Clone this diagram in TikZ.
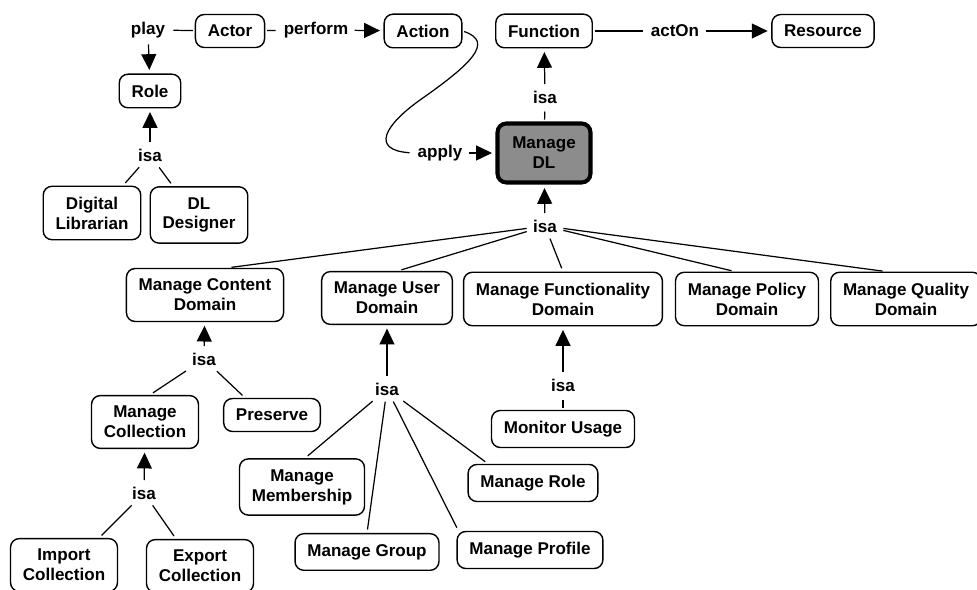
\documentclass[tikz,border=0pt]{standalone}
\usepackage{fontspec}
\setmainfont{Liberation Sans}
\usepackage{tikz}
\usetikzlibrary{arrows.meta}
\usepackage{xcolor}
\definecolor{dlgray}{RGB}{140,140,140}

\begin{document}
\begin{tikzpicture}[
    x=0.02cm, y=-0.02cm,
    concept/.style={draw, rounded corners=5pt, line width=0.8pt, align=center, inner xsep=7pt, inner ysep=6pt, font=\bfseries\fontsize{9.7}{11.3}\selectfont},
    phrase/.style={inner sep=2.5pt, font=\bfseries\fontsize{9.7}{11.3}\selectfont},
    link/.style={line width=0.7pt, shorten <=1pt, shorten >=2pt},
    isarrow/.style={link, -{Triangle[length=9pt,width=8.5pt]}}
]
    \useasboundingbox (0,0) rectangle (977,590);

    % Nodes
    \node[concept] (actor) at (230,31) {Actor};
    \node[concept] (action) at (423,31) {Action};
    \node[concept] (function) at (544,31) {Function};
    \node[concept] (resource) at (823,31) {Resource};
    \node[concept] (role) at (150,91) {Role};
    \node[concept, fill=dlgray, line width=2.3pt, minimum width=1.86cm, minimum height=1.18cm] (mdl) at (544,153) {Manage\\DL};
    \node[concept] (diglib) at (92,213) {Digital\\Librarian};
    \node[concept] (dldes) at (199,215) {DL\\Designer};
    \node[concept] (mcd) at (205,295) {Manage Content\\Domain};
    \node[concept] (mud) at (387,298) {Manage User\\Domain};
    \node[concept] (mfd) at (563,299) {Manage Functionality\\Domain};
    \node[concept] (mpd) at (747,299) {Manage Policy\\Domain};
    \node[concept] (mqd) at (906,299) {Manage Quality\\Domain};
    \node[concept] (mcoll) at (145,422) {Manage\\Collection};
    \node[concept] (preserve) at (272,415) {Preserve};
    \node[concept] (import) at (64,565) {Import\\Collection};
    \node[concept] (export) at (200,566) {Export\\Collection};
    \node[concept] (membership) at (302,487) {Manage\\Membership};
    \node[concept] (mgroup) at (367,552) {Manage Group};
    \node[concept] (mprofile) at (530,550) {Manage Profile};
    \node[concept] (mrole) at (533,483) {Manage Role};
    \node[concept] (monitor) at (563,429) {Monitor Usage};

    % Linking phrases
    \node[phrase] (play) at (148,30) {play};
    \node[phrase] (perform) at (316,30) {perform};
    \node[phrase] (apply) at (440,153) {apply};
    \node[phrase] (acton) at (675,31) {actOn};
    \node[phrase] (isarole) at (150,155) {isa};
    \node[phrase] (isafn) at (545,97) {isa};
    \node[phrase] (isadl) at (545,226) {isa};
    \node[phrase] (isamcd) at (204,359) {isa};
    \node[phrase] (isamud) at (387,389) {isa};
    \node[phrase] (isamfd) at (563,385) {isa};
    \node[phrase] (isacoll) at (144,493) {isa};

    % Arrows
    \draw[link] (actor) -- (play);
    \draw[isarrow] (play) -- (role);
    \draw[link] (actor) -- (perform);
    \draw[isarrow] (perform) -- (action);
    \draw[link] (action.east) .. controls (495,42) and (470,65) .. (420,100) .. controls (385,125) and (370,150) .. (apply.west);
    \draw[isarrow] (apply) -- (mdl);
    \draw[link] (function) -- (acton);
    \draw[isarrow] (acton) -- (resource);
    \draw[link] (mdl) -- (isafn);
    \draw[isarrow] (isafn) -- (function);

    \draw[link] (isarole) -- ([shift={(31,0)}]diglib.north);
    \draw[link] (isarole) -- ([shift={(-26,0)}]dldes.north);
    \draw[isarrow] (isarole) -- (role);

    \draw[link] (isadl) -- ([shift={(23,0)}]mcd.north);
    \draw[link] (isadl) -- ([shift={(11,0)}]mud.north);
    \draw[link] (isadl) -- (mfd.north);
    \draw[link] (isadl) -- ([shift={(-12,0)}]mpd.north);
    \draw[link] (isadl) -- ([shift={(-20,0)}]mqd.north);
    \draw[isarrow] (isadl) -- (mdl);

    \draw[link] (isamcd) -- ([shift={(5,0)}]mcoll.north);
    \draw[link] (isamcd) -- ([shift={(-27,0)}]preserve.north);
    \draw[isarrow] (isamcd) -- (mcd);

    \draw[link] (isacoll) -- ([shift={(35,0)}]import.north);
    \draw[link] (isacoll) -- ([shift={(-24,0)}]export.north);
    \draw[isarrow] (isacoll) -- (mcoll);

    \draw[link] (isamud) -- ([shift={(3,0)}]membership.north);
    \draw[link] (isamud) -- (mgroup.north);
    \draw[link] (isamud) -- ([shift={(2,0)}]mprofile.north west);
    \draw[link] (isamud) -- ([shift={(-45,0)}]mrole.north);
    \draw[isarrow] (isamud) -- (mud);

    \draw[link] (monitor) -- (isamfd);
    \draw[isarrow] (isamfd) -- (mfd);
\end{tikzpicture}
\end{document}
